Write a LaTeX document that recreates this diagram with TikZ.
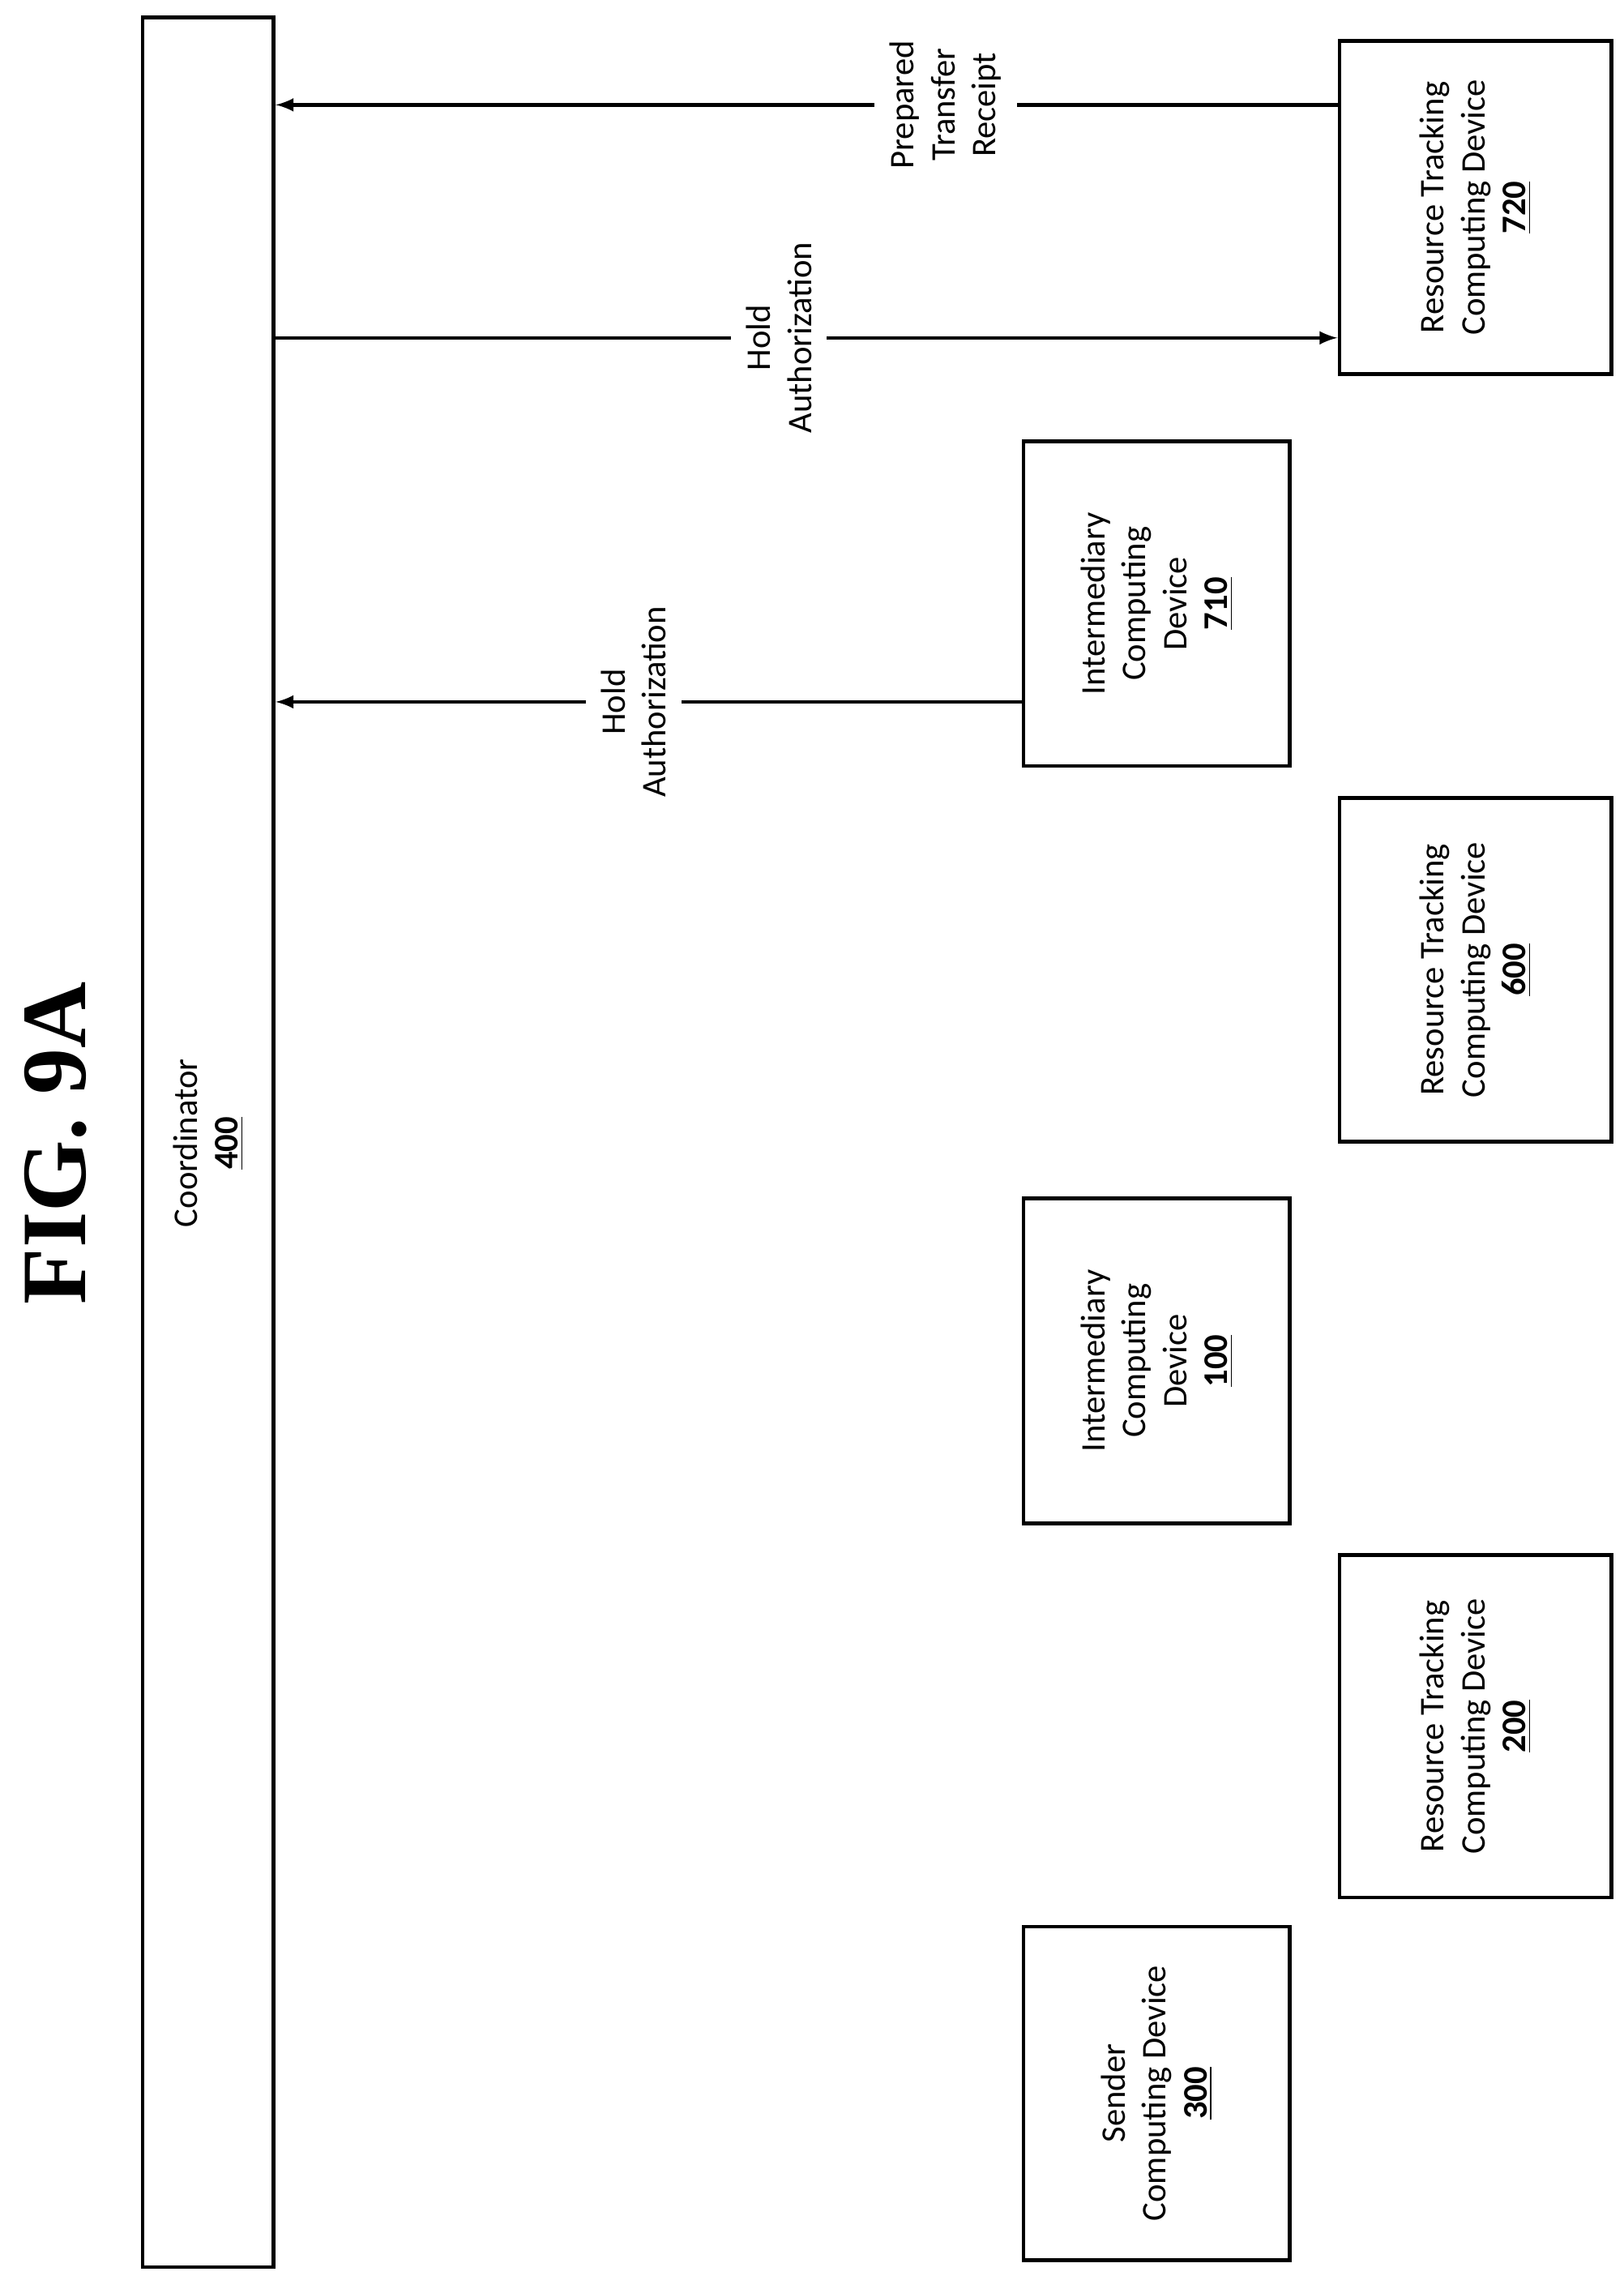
\documentclass[tikz,border=0pt]{standalone}
\usepackage{fontspec}
\setmainfont{Carlito}
\newfontfamily\figfont{Liberation Serif}
\begin{document}
\begin{tikzpicture}[>=latex,x=0.02cm,y=-0.02cm,
  box/.style={draw,line width=1.5pt,minimum width=#1,inner sep=0pt},
  lbl/.style={rotate=90,align=center,font=\fontsize{13.5}{16}\selectfont},
  msg/.style={line width=1.4pt,->}]
\useasboundingbox (0,0) rectangle (1115,1563);
\node[draw,line width=1.5pt,minimum width=1.8cm,minimum height=30.9cm,inner sep=0pt] (coord) at (143,784.5) {};
\node[lbl] at (143,785) {Coordinator\\\underline{\textbf{400}}};
\node[rotate=90,font=\figfont\fontsize{36}{40}\selectfont\bfseries] (fig) at (38,785) {FIG. 9A};

\node[box=3.74cm,minimum height=4.58cm] (d720) at (1013.5,142.5) {};
\node[lbl] at (d720) {Resource Tracking\\Computing Device\\\underline{\textbf{720}}};
\node[box=3.66cm,minimum height=4.46cm] (d710) at (794.5,414.5) {};
\node[lbl] at (d710) {Intermediary\\Computing\\Device\\\underline{\textbf{710}}};
\node[box=3.74cm,minimum height=4.72cm] (d600) at (1013.5,666) {};
\node[lbl] at (d600) {Resource Tracking\\Computing Device\\\underline{\textbf{600}}};
\node[box=3.66cm,minimum height=4.46cm] (d100) at (794.5,934.5) {};
\node[lbl] at (d100) {Intermediary\\Computing\\Device\\\underline{\textbf{100}}};
\node[box=3.74cm,minimum height=4.70cm] (d200) at (1013.5,1185.5) {};
\node[lbl] at (d200) {Resource Tracking\\Computing Device\\\underline{\textbf{200}}};
\node[box=3.66cm,minimum height=4.58cm] (d300) at (794.5,1437.5) {};
\node[lbl] at (d300) {Sender\\Computing Device\\\underline{\textbf{300}}};

% messages
\coordinate (m1) at (0,72);
\coordinate (m2) at (0,232);
\coordinate (m3) at (0,482);
\draw[msg] (d720.west |- m1) -- node[pos=0.369,lbl,fill=white,inner sep=6pt] {Prepared\\Transfer\\Receipt} (coord.east |- m1);
\draw[msg] (coord.east |- m2) -- node[pos=0.474,lbl,fill=white,inner sep=6pt] {Hold\\Authorization} (d720.west |- m2);
\draw[msg] (d710.west |- m3) -- node[pos=0.52,lbl,fill=white,inner sep=6pt] {Hold\\Authorization} (coord.east |- m3);
\end{tikzpicture}
\end{document}
